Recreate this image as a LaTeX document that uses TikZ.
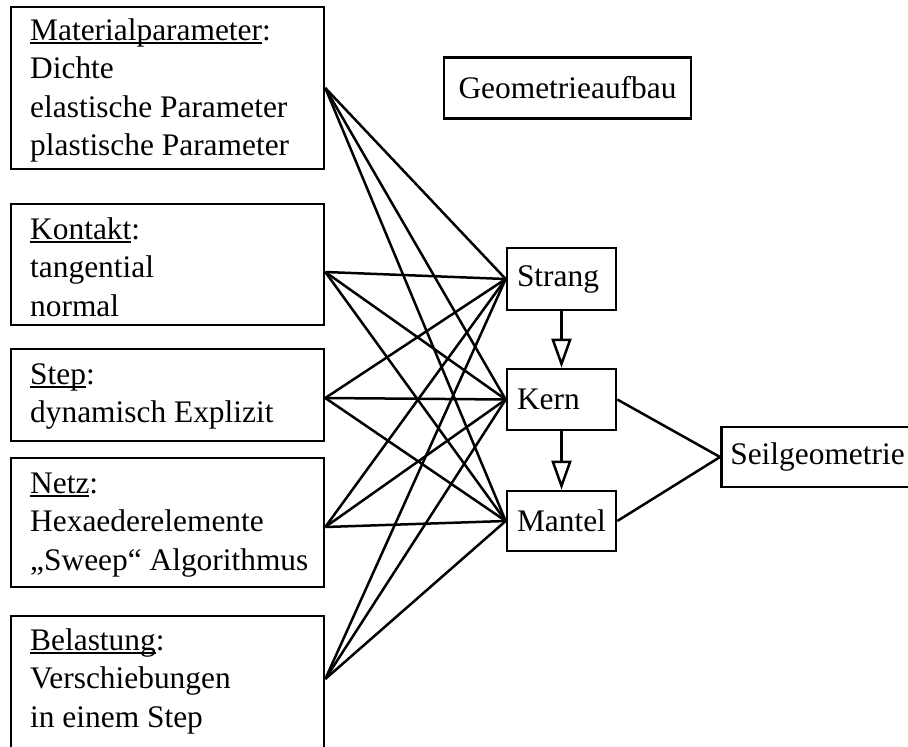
\documentclass[tikz,border=0pt]{standalone}
\usepackage{fontspec}
\setmainfont{Liberation Serif}
\usetikzlibrary{arrows.meta}
% underline that sits just below the baseline and crosses descenders
\newcommand\ulword[1]{\setbox0\hbox{#1}\rlap{\rule[-3.5pt]{\wd0}{1.4pt}}\box0}
\begin{document}
\begin{tikzpicture}[x=1pt,y=-1pt,
  font=\fontsize{31.4}{38.5}\selectfont,
  frame/.style={draw, line width=2.6pt, inner sep=0pt},
  infobox/.style={frame, minimum width=313pt},
  partbox/.style={frame, minimum width=109pt, minimum height=61pt, text width=89pt, align=left},
  boxtext/.style={anchor=base west, inner sep=0pt},
  link/.style={line width=2.5pt},
  flow/.style={line width=2.5pt, -{Triangle[open, length=29pt, width=20pt, fill=white]}}]
\useasboundingbox (0,0) rectangle (908,747);

% parameter boxes on the left
\node[infobox, minimum height=162pt] (mat)  at (167.5,88)    {};
\node[infobox, minimum height=121pt] (kon)  at (167.5,264.5) {};
\node[infobox, minimum height=92pt]  (stp)  at (167.5,395)   {};
\node[infobox, minimum height=129pt] (netz) at (167.5,522.5) {};
\node[infobox, minimum height=136pt] (bel)  at (167.5,684)   {};

\node[boxtext] (matT) at (30,40) {\begin{tabular}[t]{@{}l@{}}\ulword{Materialparameter}:\\ Dichte\\ elastische Parameter\\ plastische Parameter\end{tabular}};
\node[boxtext] (konT) at (30,239) {\begin{tabular}[t]{@{}l@{}}\ulword{Kontakt}:\\ tangential\\ normal\end{tabular}};
\node[boxtext] (stpT) at (30,384) {\begin{tabular}[t]{@{}l@{}}\ulword{Step}:\\ dynamisch Explizit\end{tabular}};
\node[boxtext] (netzT) at (30,493) {\begin{tabular}[t]{@{}l@{}}\ulword{Netz}:\\ Hexaederelemente\\ „Sweep“ Algorithmus\end{tabular}};
\node[boxtext] (belT) at (30,650) {\begin{tabular}[t]{@{}l@{}}\ulword{Belastung}:\\ Verschiebungen\\ in einem Step\end{tabular}};

% geometry build-up
\node[frame, minimum width=247pt, minimum height=61pt] (geo) at (567.5,88) {Geometrieaufbau};
\node[partbox, minimum height=62pt] (strang) at (561.5,279)   {Strang};
\node[partbox] (kern)   at (561.5,399.5) {Kern};
\node[partbox, minimum height=60pt] (mantel) at (561.5,521)   {Mantel};
\node[frame, anchor=west, minimum width=195pt, minimum height=60pt, text width=177pt, align=left] (seil) at (720,457) {Seilgeometrie};

% connection points on the parameter boxes
\coordinate (matP)  at (mat.east);
\coordinate (konP)  at ([yshift=-7.5pt]kon.east);
\coordinate (stpP)  at ([yshift=-3pt]stp.east);
\coordinate (netzP) at ([yshift=-4.5pt]netz.east);
\coordinate (belP)  at ([yshift=5pt]bel.east);

\foreach \p in {matP,konP,stpP,netzP,belP}
  \foreach \t in {strang,kern,mantel}
    \draw[link] (\p) -- (\t.west);

\draw[flow] (strang) -- (kern);
\draw[flow] (kern) -- (mantel);
\draw[link] (kern.east) -- (seil.west);
\draw[link] (mantel.east) -- (seil.west);
\end{tikzpicture}
\end{document}
